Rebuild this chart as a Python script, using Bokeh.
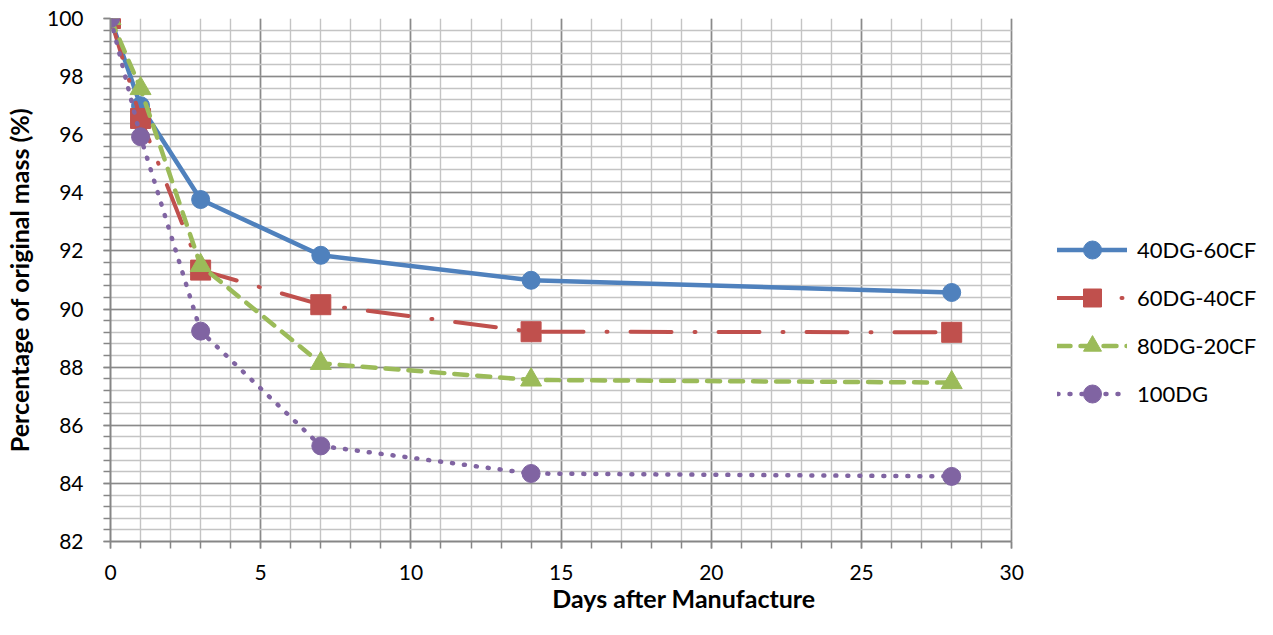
from bokeh.plotting import figure
from bokeh.models import Range1d, SingleIntervalTicker, Legend, LegendItem
from bokeh.embed import file_html
from bokeh.resources import INLINE

days = [0, 1, 3, 7, 14, 28]
s40dg_60cf = [100, 97.0, 93.77, 91.85, 90.99, 90.57]
s60dg_40cf = [100, 96.56, 91.34, 90.15, 89.22, 89.2]
s80dg_20cf = [100, 97.59, 91.5, 88.13, 87.56, 87.47]
s100dg = [100, 95.93, 89.24, 85.29, 84.34, 84.24]

names = ["40DG-60CF", "60DG-40CF", "80DG-20CF", "100DG"]
series = [s40dg_60cf, s60dg_40cf, s80dg_20cf, s100dg]
colors = ["#4f81bd", "#c0504d", "#9bbb59", "#8064a2"]
dashes = ["solid", "41 23 1 23", "13 10", "1 11"]
widths = [4.5, 4, 4.5, 4.5]
markers = ["circle", "square", "triangle", "circle"]
msizes = [18, 20, 21, 18]

FONT = "Lato"
W, H = 1257, 619
LEFT, TOP, BOTTOM = 104, 18, 78
DATA_W = 906  # pixel width of the 0..30 day span
frame_w = W - LEFT
x_end = 30 * frame_w / DATA_W

p = figure(width=W, height=H, x_range=Range1d(0, x_end), y_range=Range1d(82, 100),
           output_backend="svg", toolbar_location=None,
           min_border_left=LEFT, min_border_right=0, min_border_top=TOP, min_border_bottom=BOTTOM)
p.outline_line_color = None
p.background_fill_color = "white"

p.xaxis.ticker = SingleIntervalTicker(interval=5, num_minor_ticks=5)
p.yaxis.ticker = SingleIntervalTicker(interval=2, num_minor_ticks=5)
p.xgrid.ticker = p.xaxis.ticker
p.ygrid.ticker = p.yaxis.ticker
p.xaxis.bounds = (0, 30)
p.xgrid.bounds = (0, 30)
p.ygrid.cross_bounds = (0, 30)

for g in (p.xgrid, p.ygrid):
    g.grid_line_color = "#8a8a8a"
    g.grid_line_width = 1.6
    g.minor_grid_line_color = "#c4c4c4"
    g.minor_grid_line_width = 1.4

for ax in (p.xaxis, p.yaxis):
    ax.axis_line_color = "#868686"
    ax.axis_line_width = 2
    ax.major_tick_line_color = "#868686"
    ax.minor_tick_line_color = "#868686"
    ax.major_tick_line_width = 1.5
    ax.minor_tick_line_width = 1.5
    ax.major_tick_in = 0
    ax.minor_tick_in = 0
    ax.major_tick_out = 7
    ax.minor_tick_out = 7
    ax.major_label_text_font = FONT
    ax.major_label_text_font_size = "21px"
    ax.major_label_text_color = "black"
    ax.axis_label_text_font = FONT
    ax.axis_label_text_font_size = "25px"
    ax.axis_label_text_font_style = "bold"
    ax.axis_label_text_color = "black"

p.xaxis.axis_label = "Days after Manufacture"
p.yaxis.axis_label = "Percentage of original mass (%)"
p.xaxis.major_label_standoff = 16
p.xaxis.axis_label_standoff = 0
p.yaxis.major_label_standoff = 20
p.yaxis.axis_label_standoff = 10

items = []
for name, ys, c, d, w, m, s in zip(names, series, colors, dashes, widths, markers, msizes):
    lr = p.line(days, ys, line_color=c, line_width=w, line_dash=d, line_cap="round", line_join="round")
    mr = p.scatter(days, ys, marker=m, size=s, fill_color=c, line_color=c, line_width=1)
    items.append(LegendItem(label=name, renderers=[lr, mr]))

legend = Legend(items=items, location=(947, 125), glyph_width=70, glyph_height=45,
                spacing=3, padding=0, margin=0, border_line_color=None,
                background_fill_alpha=0, label_text_font=FONT, label_text_font_size="22px",
                label_standoff=10, label_text_color="black")
p.add_layout(legend, "center")

open("out.html", "w").write(file_html(p, INLINE))
